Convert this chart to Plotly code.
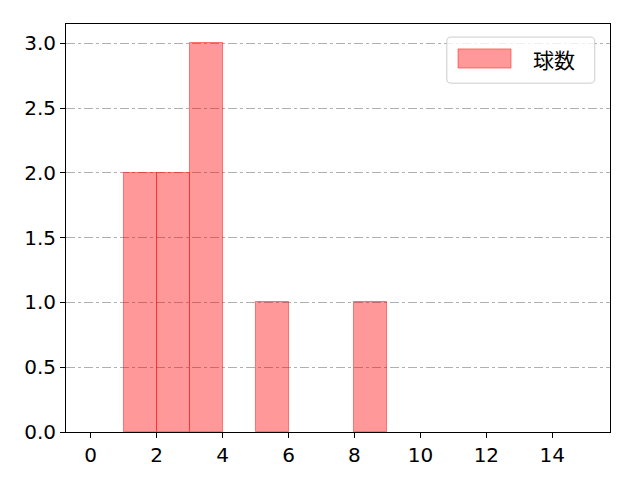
import plotly.graph_objects as go

# raw observations (one per count)
values = [1, 1, 2, 2, 3, 3, 3, 5, 8]
bin_start = 0
bin_end = 15
bin_size = 1
series_name = "球数"
x_ticks = [0, 2, 4, 6, 8, 10, 12, 14]
y_ticks = [0.0, 0.5, 1.0, 1.5, 2.0, 2.5, 3.0]

fill = "rgba(255,0,0,0.4)"
edge = "rgba(255,0,0,0.45)"
font = "Noto Sans CJK JP"
tick_font = "DejaVu Sans"

fig = go.Figure()
fig.add_trace(go.Histogram(
    x=values,
    xbins=dict(start=bin_start, end=bin_end, size=bin_size),
    autobinx=False,
    name=series_name,
    marker=dict(color=fill, line=dict(color=edge, width=1)),
    showlegend=False,
))

# legend box (matplotlib-style, rounded)
x0, x1, y0, y1 = 0.700, 0.972, 0.855, 0.968
rx, ry = 0.008, 0.010
path = (f"M {x0+rx},{y0} L {x1-rx},{y0} Q {x1},{y0} {x1},{y0+ry} "
        f"L {x1},{y1-ry} Q {x1},{y1} {x1-rx},{y1} L {x0+rx},{y1} "
        f"Q {x0},{y1} {x0},{y1-ry} L {x0},{y0+ry} Q {x0},{y0} {x0+rx},{y0} Z")
fig.add_shape(type="path", path=path, xref="paper", yref="paper",
              fillcolor="rgba(255,255,255,0.8)", line=dict(color="#cccccc", width=1))
fig.add_shape(type="rect", xref="paper", yref="paper",
              x0=0.7206, x1=0.818, y0=0.892, y1=0.939,
              fillcolor=fill, line=dict(color=edge, width=1))
fig.add_annotation(text=series_name, xref="paper", yref="paper",
                   x=0.855, y=0.915, xanchor="left", yanchor="middle",
                   showarrow=False, font=dict(family=font, size=21, color="black"))

fig.update_layout(
    width=640, height=480,
    margin=dict(l=58, r=38, t=16, b=56),
    plot_bgcolor="white", paper_bgcolor="white",
    bargap=0,
    font=dict(family=tick_font, size=20, color="black"),
    xaxis=dict(range=[-0.75, 15.75], tickvals=x_ticks,
               ticktext=[str(v) for v in x_ticks],
               showgrid=False, zeroline=False,
               showline=True, linecolor="black", linewidth=1, mirror=True,
               ticks="outside", ticklen=5, tickcolor="black"),
    yaxis=dict(range=[0, 3.15], tickvals=y_ticks,
               ticktext=[f"{v:.1f}" for v in y_ticks],
               showgrid=True, gridcolor="#b0b0b0", griddash="dashdot", gridwidth=1,
               zeroline=False,
               showline=True, linecolor="black", linewidth=1, mirror=True,
               ticks="outside", ticklen=5, tickcolor="black"),
)

fig.write_html("out.html")
